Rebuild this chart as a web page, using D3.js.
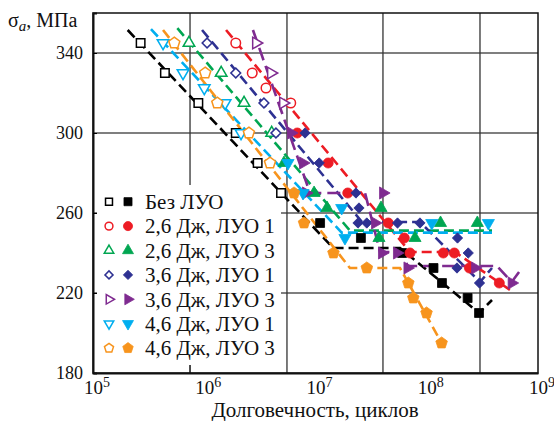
<!DOCTYPE html>
<html>
<head>
<meta charset="utf-8">
<script src="https://cdn.jsdelivr.net/npm/d3@7"></script>
<style>
  body { margin: 0; background: #fff; }
  svg { display: block; }
  svg text { font-family: "Liberation Serif", "DejaVu Serif", serif; fill: #111; }
</style>
</head>
<body>
<svg id="chart" width="554" height="421"></svg>
<script>
// Fatigue test results: [cycles to failure, stress amplitude σa, MPa]
// open = short-life tests, filled = long-life tests, line = fitted curve knots

const bezLuoOpen   = [[2.68e5, 345], [4.43e5, 330], [8.85e5, 315], [1.92e6, 300], [3.02e6, 285], [4.90e6, 270]];
const bezLuoFilled = [[1.10e7, 255], [2.56e7, 247.5], [6.00e7, 240], [1.15e8, 232.5], [1.37e8, 225], [2.33e8, 217.5], [2.95e8, 210]];
const bezLuoLine   = [[2.05e5, 351.5], [1.44e7, 242.5], [5.75e7, 242.5], [2.95e8, 210], [3.86e8, 216.5]];

const j26l1Open   = [[1.92e6, 345], [2.70e6, 330], [3.59e6, 322.5], [5.99e6, 315]];
const j26l1Filled = [[6.86e6, 300], [1.30e7, 285], [1.95e7, 270], [4.51e7, 255], [6.28e7, 247.5], [7.07e7, 240], [1.41e8, 240], [1.77e8, 240], [2.42e8, 232.5], [4.49e8, 225]];
const j26l1Line   = [[1.57e6, 351.5], [7.07e7, 240.5], [1.79e8, 240.5], [5.96e8, 220.5]];

const j26l3Open   = [[7.29e5, 345], [1.42e6, 330], [2.28e6, 315], [4.04e6, 300]];
const j26l3Filled = [[5.21e6, 285], [9.71e6, 270], [1.27e7, 262.5], [3.88e7, 262.5], [3.72e7, 247.5], [7.84e7, 247.5], [1.33e8, 255], [2.85e8, 255]];
const j26l3Line   = [[5.73e5, 352.4], [2.04e7, 251.2], [3.86e8, 251.2]];

const j36l1Open   = [[1.06e6, 345], [1.92e6, 330], [3.44e6, 315], [4.41e6, 300]];
const j36l1Filled = [[8.05e6, 300], [1.08e7, 285], [2.31e7, 270], [2.46e7, 262.5], [2.41e7, 255], [2.89e7, 255], [5.46e7, 255], [8.69e7, 255], [1.89e8, 247.5], [2.36e8, 240], [1.87e8, 232.5], [2.98e8, 225]];
const j36l1Line   = [[9.55e5, 351.5], [2.62e7, 255.5], [8.69e7, 255.5], [3.01e8, 225.5], [3.86e8, 232.5]];

const j36l3Open   = [[2.92e6, 345], [3.98e6, 330], [5.11e6, 315]];
const j36l3Filled = [[6.03e6, 300], [7.73e6, 285], [8.22e6, 270], [4.05e7, 270], [3.43e7, 255], [3.96e7, 240], [5.40e7, 240], [6.71e7, 232.5], [2.72e8, 232.5], [5.80e8, 225]];
const j36l3Line   = [[2.74e6, 351.5], [8.93e6, 270], [2.79e7, 270], [3.80e7, 240.5], [6.12e7, 240.5], [6.71e7, 233.5], [4.28e8, 233.5], [5.80e8, 225.5], [7.18e8, 232.5]];

const j46l1Open   = [[4.26e5, 345], [6.44e5, 330], [1.00e6, 322.5], [1.54e6, 315], [2.14e6, 300]];
const j46l1Filled = [[5.66e6, 285], [7.73e6, 270], [1.72e7, 262.5], [1.84e7, 247.5], [1.11e8, 255], [3.58e8, 255]];
const j46l1Line   = [[3.32e5, 351.9], [1.72e7, 250.2], [3.86e8, 250.2]];

const j46l3Open   = [[5.38e5, 345], [1.02e6, 330], [1.31e6, 315], [2.52e6, 300], [3.90e6, 285]];
const j46l3Filled = [[6.41e6, 270], [7.89e6, 255], [1.45e7, 240], [2.89e7, 232.5], [6.83e7, 225], [7.57e7, 217.5], [9.95e7, 210], [1.36e8, 195]];
const j46l3Line   = [[4.26e5, 351.5], [2.04e7, 232.5], [5.75e7, 232.5], [1.36e8, 195]];

const legendLabels = ["Без ЛУО", "2,6 Дж, ЛУО 1", "2,6 Дж, ЛУО 3", "3,6 Дж, ЛУО 1", "3,6 Дж, ЛУО 3", "4,6 Дж, ЛУО 1", "4,6 Дж, ЛУО 3"];
const xTickExp = [5, 6, 7, 8, 9];
const yTicks = [180, 220, 260, 300, 340];
const gridStress = [220, 260, 300, 340];
const gridCycles = [7.45e5, 5.54e6, 4.04e7, 3.01e8];

const SERIF = '"Liberation Serif", "DejaVu Serif", serif';

// Styling per series
const series = [
  { label: legendLabels[0], color: "#000000", shape: "square",   open: bezLuoOpen, filled: bezLuoFilled, line: bezLuoLine, dash: "10,5" },
  { label: legendLabels[1], color: "#ed1c24", shape: "circle",   open: j26l1Open,  filled: j26l1Filled,  line: j26l1Line,  dash: "10,5" },
  { label: legendLabels[2], color: "#00a651", shape: "triUp",    open: j26l3Open,  filled: j26l3Filled,  line: j26l3Line,  dash: "10,5" },
  { label: legendLabels[3], color: "#2e3192", shape: "diamond",  open: j36l1Open,  filled: j36l1Filled,  line: j36l1Line,  dash: "10,5" },
  { label: legendLabels[4], color: "#7f2b90", shape: "triRight", open: j36l3Open,  filled: j36l3Filled,  line: j36l3Line,  dash: "13,6" },
  { label: legendLabels[5], color: "#00aeef", shape: "triDown",  open: j46l1Open,  filled: j46l1Filled,  line: j46l1Line,  dash: "10,5" },
  { label: legendLabels[6], color: "#f7941d", shape: "pentagon", open: j46l3Open,  filled: j46l3Filled,  line: j46l3Line,  dash: "10,5" }
];

const svg = d3.select("#chart");
const X0 = 93, X1 = 538, Y0 = 373, Y1 = 13;
const x = d3.scaleLog().domain([1e5, 1e9]).range([X0, X1]);
const y = d3.scaleLinear().domain([180, 360]).range([Y0, Y1]);

// Grid
const grid = svg.append("g");
grid.selectAll("line.h").data(gridStress).join("line")
  .attr("x1", X0).attr("x2", X1)
  .attr("y1", d => y(d)).attr("y2", d => y(d))
  .attr("stroke", "#555").attr("stroke-width", 1.4);
grid.selectAll("line.v").data(gridCycles).join("line")
  .attr("x1", d => x(d)).attr("x2", d => x(d))
  .attr("y1", Y1).attr("y2", Y0)
  .attr("stroke", "#333").attr("stroke-width", 1.3);

// Legend background hides the grid behind it
svg.append("rect").attr("x", 97).attr("y", 185).attr("width", 184).attr("height", 180).attr("fill", "#fff");
// small tick remaining at the bottom for the first vertical grid line
svg.append("line").attr("x1", x(gridCycles[0])).attr("x2", x(gridCycles[0]))
  .attr("y1", Y0).attr("y2", Y0 - 8).attr("stroke", "#333").attr("stroke-width", 1.3);

// Frame
svg.append("rect").attr("x", X0).attr("y", Y1).attr("width", X1 - X0).attr("height", Y0 - Y1)
  .attr("fill", "none").attr("stroke", "#111").attr("stroke-width", 1.5);

// Axes
const yAxis = svg.append("g").attr("transform", `translate(${X0},0)`)
  .call(d3.axisLeft(y).tickValues(yTicks).tickSize(-4).tickPadding(10).tickFormat(d3.format("d")));
yAxis.attr("font-family", SERIF);
yAxis.select(".domain").attr("stroke", "#111").attr("stroke-width", 2);
yAxis.selectAll("text").attr("font-size", 18).attr("fill", "#111").style("font-family", SERIF);

const xAxis = svg.append("g").attr("transform", `translate(0,${Y0})`)
  .call(d3.axisBottom(x).tickValues(xTickExp.map(e => Math.pow(10, e))).tickSize(0).tickFormat(""));
xAxis.attr("font-family", SERIF);
xAxis.select(".domain").attr("stroke", "#111").attr("stroke-width", 2);
xAxis.selectAll(".tick").each(function (d, i) {
  const t = d3.select(this).append("text")
    .attr("x", -9.5).attr("y", 20.5).attr("text-anchor", "start")
    .attr("font-size", 19).attr("fill", "#111")
    .style("font-family", SERIF);
  t.append("tspan").text("10");
  t.append("tspan").attr("dy", -7).attr("font-size", 14).text(xTickExp[i]);
});

// Axis titles
svg.append("text").attr("x", 315).attr("y", 417).attr("text-anchor", "middle")
  .attr("font-size", 21).style("font-family", SERIF).text("Долговечность, циклов");
const yt = svg.append("text").attr("x", 8).attr("y", 27).attr("font-size", 20).style("font-family", SERIF);
yt.append("tspan").text("σ");
yt.append("tspan").attr("dy", 4).attr("font-size", 15).attr("font-style", "italic").text("a");
yt.append("tspan").attr("dy", -4).text(", МПа");

// Marker shapes
function pentagonPath(r) {
  const pts = d3.range(5).map(k => {
    const a = -Math.PI / 2 + k * 2 * Math.PI / 5;
    return [r * Math.cos(a), r * Math.sin(a)];
  });
  return "M" + pts.map(p => p[0].toFixed(2) + "," + p[1].toFixed(2)).join("L") + "Z";
}
function markerPath(shape, k) {
  switch (shape) {
    case "square": return d3.symbol(d3.symbolSquare, 72 * k * k)();
    case "circle": return d3.symbol(d3.symbolCircle, 72 * k * k)();
    case "triUp":
    case "triRight":
    case "triDown": return d3.symbol(d3.symbolTriangle, 58 * k * k)();
    case "diamond": return d3.symbol(d3.symbolSquare, 48 * k * k)();
    case "pentagon": return pentagonPath(5.8 * k);
  }
}
function markerRotation(shape) {
  return { triRight: 90, triDown: 180, diamond: 45 }[shape] || 0;
}

const line = d3.line().x(d => x(d[0])).y(d => y(d[1]));

// Curves
const curves = svg.append("g");
series.forEach(s => {
  curves.append("path").datum(s.line)
    .attr("d", line)
    .attr("fill", "none").attr("stroke", s.color)
    .attr("stroke-width", 2.6).attr("stroke-dasharray", s.dash);
});

// Points
const pts = svg.append("g");
series.forEach(s => {
  const rot = markerRotation(s.shape);
  pts.append("g").selectAll("path").data(s.open).join("path")
    .attr("d", markerPath(s.shape, 1))
    .attr("transform", d => `translate(${x(d[0])},${y(d[1])}) rotate(${rot})`)
    .attr("fill", "#fff").attr("stroke", s.color).attr("stroke-width", 1.5);
  pts.append("g").selectAll("path").data(s.filled).join("path")
    .attr("d", markerPath(s.shape, 1.05))
    .attr("transform", d => `translate(${x(d[0])},${y(d[1])}) rotate(${rot})`)
    .attr("fill", s.color).attr("stroke", s.color).attr("stroke-width", 0.8);
});

// Legend
const lg = svg.append("g");
series.forEach((s, i) => {
  const cy = 201.7 + i * 24.4;
  const rot = markerRotation(s.shape);
  lg.append("path").attr("d", markerPath(s.shape, 0.82))
    .attr("transform", `translate(109,${cy}) rotate(${rot})`)
    .attr("fill", "#fff").attr("stroke", s.color).attr("stroke-width", 1.5);
  lg.append("path").attr("d", markerPath(s.shape, 0.95))
    .attr("transform", `translate(128,${cy}) rotate(${rot})`)
    .attr("fill", s.color).attr("stroke", s.color).attr("stroke-width", 0.8);
  lg.append("text").attr("x", 145).attr("y", cy + 7.2).attr("font-size", 21)
    .style("font-family", SERIF).text(s.label);
});
</script>
</body>
</html>
